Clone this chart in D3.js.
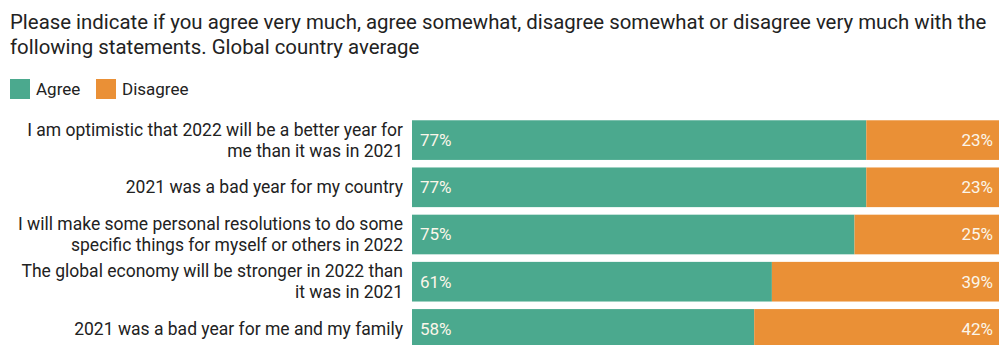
<!DOCTYPE html>
<html>
<head>
<meta charset="utf-8">
<script src="https://cdn.jsdelivr.net/npm/d3@7/dist/d3.min.js"></script>
<style>
  html, body { margin: 0; padding: 0; background: #fff; overflow: hidden; }
  svg { display: block; font-family: Roboto, "Noto Sans", sans-serif; }
</style>
</head>
<body>
<svg id="chart" width="999" height="345"></svg>
<script>
// Survey statements (each label split into its wrapped lines)
const statements = [
  ["I am optimistic that 2022 will be a better year for", "me than it was in 2021"],
  ["2021 was a bad year for my country"],
  ["I will make some personal resolutions to do some", "specific things for myself or others in 2022"],
  ["The global economy will be stronger in 2022 than", "it was in 2021"],
  ["2021 was a bad year for me and my family"]
];
const agree = [77, 77, 75, 61, 58];
const disagree = [23, 23, 25, 39, 42];
const seriesNames = ["Agree", "Disagree"];
const seriesColors = ["#4ba98e", "#ea9036"];
const titleLines = [
  "Please indicate if you agree very much, agree somewhat, disagree somewhat or disagree very much with the",
  "following statements. Global country average"
];

const svg = d3.select("#chart");

// Title
svg.append("g")
  .selectAll("text")
  .data(titleLines)
  .join("text")
  .attr("x", 10)
  .attr("y", (d, i) => 29 + i * 25)
  .attr("font-size", 20.4)
  .attr("fill", "#222")
  .text(d => d);

// Legend
const legend = svg.append("g").attr("transform", "translate(10,79)");
const legendX = [0, 86];
seriesNames.forEach((name, i) => {
  const g = legend.append("g").attr("transform", `translate(${legendX[i]},0)`);
  g.append("rect").attr("width", 20).attr("height", 20).attr("fill", seriesColors[i]);
  g.append("text").attr("x", 26).attr("y", 16).attr("font-size", 17).attr("fill", "#222").text(name);
});

// Scales
const x = d3.scaleLinear().domain([0, 100]).range([412, 1002]);
const idx = d3.range(statements.length);
const y = d3.scaleBand().domain(idx).range([116.5, 352.5]).paddingInner(0.16).paddingOuter(0.08);

const rows = svg.append("g")
  .selectAll("g")
  .data(idx)
  .join("g")
  .attr("transform", i => `translate(0,${y(i)})`);

// Agree segment
rows.append("rect")
  .attr("x", x(0))
  .attr("width", i => x(agree[i]) - x(0))
  .attr("height", y.bandwidth())
  .attr("fill", seriesColors[0]);

// Disagree segment
rows.append("rect")
  .attr("x", i => x(agree[i]))
  .attr("width", i => x(agree[i] + disagree[i]) - x(agree[i]))
  .attr("height", y.bandwidth())
  .attr("fill", seriesColors[1]);

// Value labels
rows.append("text")
  .attr("x", x(0) + 8)
  .attr("y", y.bandwidth() / 2)
  .attr("dy", "0.35em")
  .attr("font-size", 17)
  .attr("fill", "#fbf6ea")
  .text(i => agree[i] + "%");

rows.append("text")
  .attr("x", 993)
  .attr("y", y.bandwidth() / 2)
  .attr("dy", "0.35em")
  .attr("text-anchor", "end")
  .attr("font-size", 17)
  .attr("fill", "#fbf6ea")
  .text(i => disagree[i] + "%");

// Category labels
rows.append("text")
  .attr("text-anchor", "end")
  .attr("font-size", 17.5)
  .attr("fill", "#222")
  .each(function (i) {
    const lines = statements[i];
    const lh = 21;
    const top = y.bandwidth() / 2 - (lines.length - 1) * lh / 2;
    d3.select(this).selectAll("tspan")
      .data(lines)
      .join("tspan")
      .attr("x", 403)
      .attr("y", (d, k) => top + k * lh)
      .attr("dy", "0.35em")
      .text(d => d);
  });
</script>
</body>
</html>
